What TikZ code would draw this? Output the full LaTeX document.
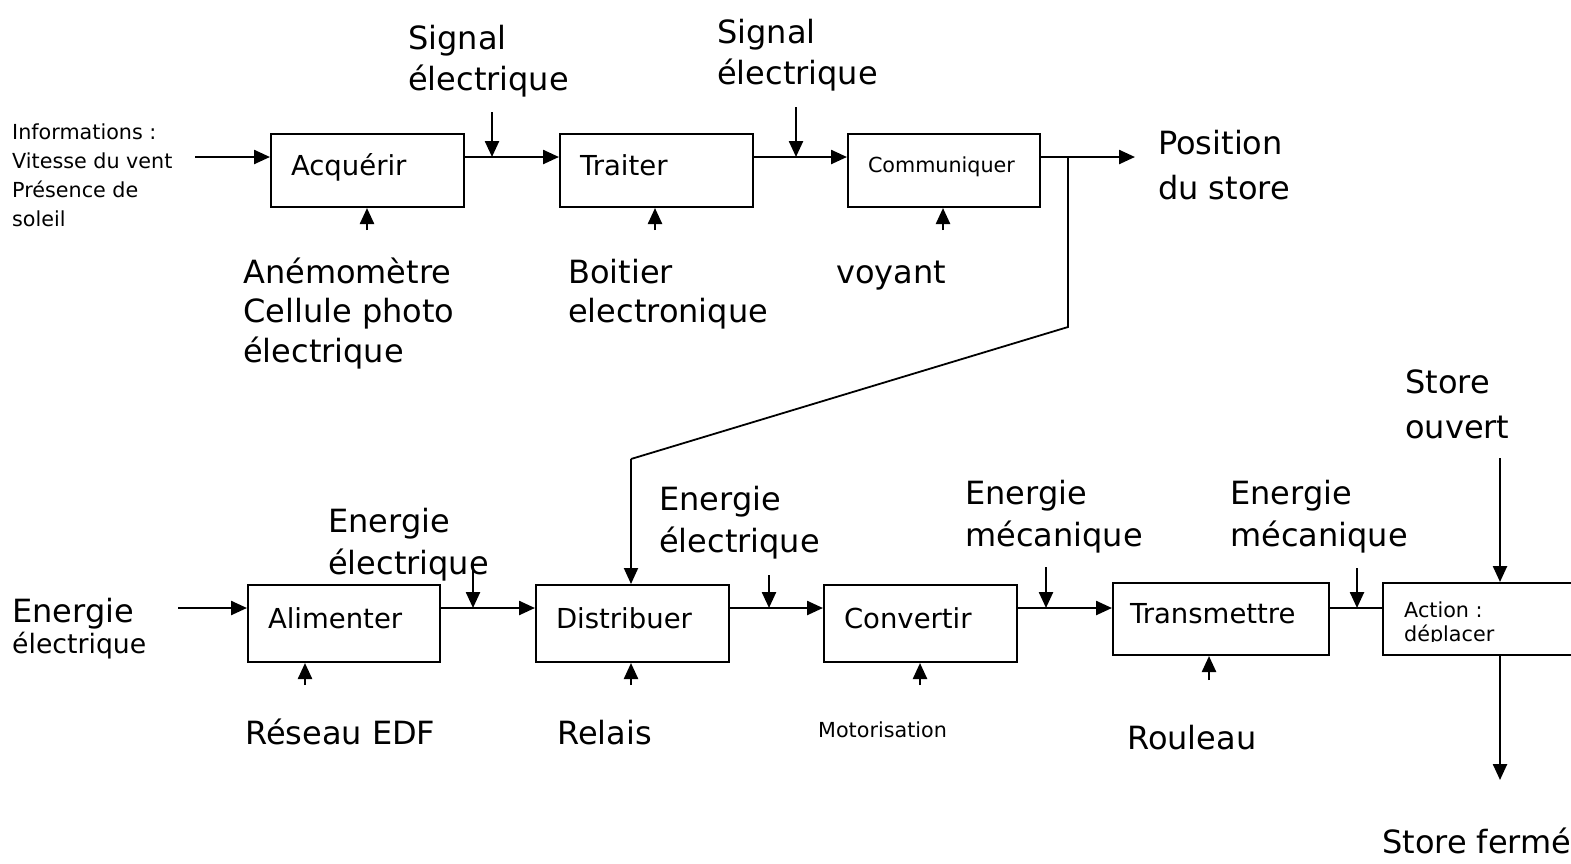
\documentclass[tikz,border=0pt]{standalone}
\usepackage{fontspec}
\setmainfont{DejaVu Sans}
\usetikzlibrary{arrows.meta}
\newcommand\fsS{\fontsize{20.7}{29}\selectfont}
\newcommand\fsB{\fontsize{27.5}{33}\selectfont}
\newcommand\fsM{\fontsize{26.7}{32}\selectfont}
\newcommand\fsLa{\fontsize{32}{40}\selectfont}
\newcommand\fsLb{\fontsize{32}{45}\selectfont}
\begin{document}
\begin{tikzpicture}[x=1pt,y=-1pt,
  box/.style={draw, line width=2pt, inner xsep=20pt, inner ysep=0pt, align=left,
    anchor=north west, font=\fsB, text height=19pt, text depth=10pt},
  sbox/.style={box, font=\fsS, text height=14pt, text depth=11pt},
  lbl/.style={anchor=base west, inner sep=0pt, align=left, font=\fsLa},
  arr/.style={line width=2.4pt, -{Triangle[length=16pt,width=14pt]}},
  ln/.style={line width=2.4pt},
  thin/.style={line width=1.8pt}]
\useasboundingbox[fill=white] (0,0) rectangle (1571,863);

% ---------- top row boxes ----------
\node[box, text width=153pt, minimum height=73pt] (acq) at (270,133) {Acquérir};
\node[box, text width=153pt, minimum height=73pt] (tra) at (559,133) {Traiter};
\node[sbox, text width=152pt, minimum height=73pt] (com) at (847,133) {Communiquer};

% ---------- top row labels (anchor = baseline of last line) ----------
\node[lbl, font=\fsS] (info) at (12,226) {Informations :\\Vitesse du vent\\Présence de\\soleil};
\node[lbl, font={\fontsize{32}{41}\selectfont}] (sig1) at (408,90) {Signal\\électrique};
\node[lbl, font={\fontsize{32}{41}\selectfont}] (sig2) at (717,84) {Signal\\électrique};
\node[lbl, font=\fsLb] (pos) at (1158,199) {Position\\du store};
\node[lbl, font={\fontsize{32}{39.5}\selectfont}] (cap) at (243,362) {Anémomètre\\Cellule photo\\électrique};
\node[lbl, font={\fontsize{32}{39.5}\selectfont}] (boi) at (568,322.5) {Boitier\\electronique};
\node[lbl] (voy) at (836,283) {voyant};

% ---------- top row connectors ----------
\coordinate (inI) at (195,157);
\coordinate (outP) at (1135,157);
\draw[arr] (inI) -- (acq.west |- inI);
\draw[arr] (acq.east |- inI) -- (tra.west |- inI);
\draw[arr] (tra.east |- inI) -- (com.west |- inI);
\draw[arr] (com.east |- inI) -- (outP);
\coordinate (s1) at (492,112);
\coordinate (s2) at (796,107);
\draw[arr] (s1) -- (s1 |- inI);
\draw[arr] (s2) -- (s2 |- inI);
\coordinate (u1) at (367,230);
\coordinate (u2) at (655,230);
\coordinate (u3) at (943,230);
\draw[arr] (u1) -- (u1 |- acq.south);
\draw[arr] (u2) -- (u2 |- tra.south);
\draw[arr] (u3) -- (u3 |- com.south);

% ---------- bottom row boxes ----------
\node[box, text width=152pt, minimum height=77pt] (ali) at (247,584) {Alimenter};
\node[box, text width=153pt, minimum height=77pt] (dis) at (535,584) {Distribuer};
\node[box, text width=153pt, minimum height=77pt] (con) at (823,584) {Convertir};
\node[box, inner xsep=17pt, text width=182pt, minimum height=72pt] (trm) at (1112,582) {Transmettre};
\node[box, text width=210pt, minimum height=72pt] (act) at (1382,582) {};
\begin{scope}
  \clip (1384,584) rectangle (1571,641);
  \node[lbl, font={\fontsize{20.7}{24}\selectfont}] (acttxt) at (1404,641) {Action :\\déplacer};
\end{scope}

% ---------- bottom row labels ----------
\node[lbl] (enL1) at (12,622) {Energie};
\node[lbl, font=\fsM] (enL2) at (12,653) {électrique};
\node[lbl, font={\fontsize{32}{42}\selectfont}] (enA) at (328,574) {Energie\\électrique};
\node[lbl, font={\fontsize{32}{42}\selectfont}] (enD) at (659,552) {Energie\\électrique};
\node[lbl, font={\fontsize{32}{42}\selectfont}] (enM1) at (965,546) {Energie\\mécanique};
\node[lbl, font={\fontsize{32}{42}\selectfont}] (enM2) at (1230,546) {Energie\\mécanique};
\node[lbl, font=\fsLb] (sto) at (1405,438) {Store\\ouvert};
\node[lbl] (stf) at (1382,853) {Store fermé};
\node[lbl] (res) at (245,744) {Réseau EDF};
\node[lbl] (rel) at (557,744) {Relais};
\node[lbl, font=\fsS] (mot) at (818,737) {Motorisation};
\node[lbl] (rou) at (1127,749) {Rouleau};

% ---------- bottom row connectors ----------
\coordinate (inE) at (178,608);
\draw[arr] (inE) -- (ali.west |- inE);
\draw[arr] (ali.east |- inE) -- (dis.west |- inE);
\draw[arr] (dis.east |- inE) -- (con.west |- inE);
\draw[arr] (con.east |- inE) -- (trm.west |- inE);
\draw[ln] (trm.east |- inE) -- (act.west |- inE);
\coordinate (d1) at (473,561);
\coordinate (d2) at (769,575);
\coordinate (d3) at (1046,567);
\coordinate (d4) at (1357,568);
\draw[arr] (d1) -- (d1 |- inE);
\draw[arr] (d2) -- (d2 |- inE);
\draw[arr] (d3) -- (d3 |- inE);
\draw[arr] (d4) -- (d4 |- inE);
\coordinate (so) at (1500,458);
\draw[arr] (so) -- (so |- act.north);
\coordinate (sf) at (1500,780);
\draw[arr] (sf |- act.south) -- (sf);
\coordinate (b1) at (305,685);
\coordinate (b2) at (631,685);
\coordinate (b3) at (920,685);
\coordinate (b4) at (1209,680);
\draw[arr] (b1) -- (b1 |- ali.south);
\draw[arr] (b2) -- (b2 |- dis.south);
\draw[arr] (b3) -- (b3 |- con.south);
\draw[arr] (b4) -- (b4 |- trm.south);

% ---------- feedback link ----------
\coordinate (br) at (1068,157);
\coordinate (k1) at (1068,327);
\coordinate (k2) at (631,459);
\draw[thin] (br) -- (k1) -- (k2);
\draw[arr, line width=2pt] (k2) -- (k2 |- dis.north);
\end{tikzpicture}
\end{document}
